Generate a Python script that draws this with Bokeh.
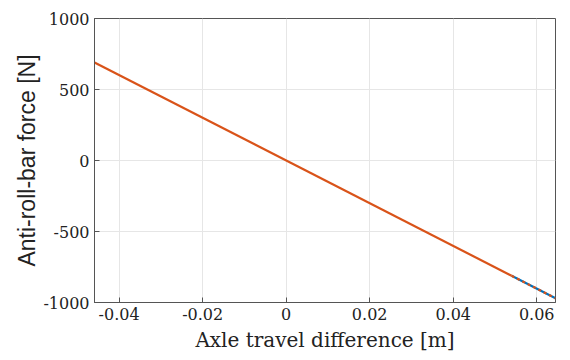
from bokeh.plotting import figure
from bokeh.models import Range1d, FixedTicker
from bokeh.embed import file_html
from bokeh.resources import INLINE

# data
x_line = [-0.0459, 0.0645]
y_line = [690.0, -970.0]
x_blue = [0.054, 0.0645]
y_blue = [-812.0, -970.0]
x_orange_solid = [-0.0459, 0.054]
y_orange_solid = [690.0, -812.0]
x_ticks = [-0.04, -0.02, 0.0, 0.02, 0.04, 0.06]
y_ticks = [-1000, -500, 0, 500, 1000]

SERIF = "DejaVu Serif"

p = figure(width=570, height=360, output_backend="svg", toolbar_location=None,
           x_range=Range1d(-0.0459, 0.0645), y_range=Range1d(-1000, 1000),
           min_border_left=94, min_border_right=15, min_border_top=18, min_border_bottom=58)

p.line(x_blue, y_blue, line_color="#0072BD", line_width=2.2)
p.line(x_orange_solid, y_orange_solid, line_color="#D95319", line_width=2.2)
p.line(x_blue, y_blue, line_color="#D95319", line_width=2.2, line_dash="3 3")

p.xaxis.ticker = FixedTicker(ticks=x_ticks)
p.yaxis.ticker = FixedTicker(ticks=y_ticks)
p.xaxis.major_label_overrides = {-0.04: "-0.04", -0.02: "-0.02", 0.0: "0", 0.02: "0.02", 0.04: "0.04", 0.06: "0.06"}
p.yaxis.major_label_overrides = {-1000: "-1000", -500: "-500", 0: "0", 500: "500", 1000: "1000"}

for ax in (p.xaxis[0], p.yaxis[0]):
    ax.axis_line_color = "#555555"
    ax.major_tick_line_color = "#555555"
    ax.major_tick_in = 5
    ax.major_tick_out = 0
    ax.minor_tick_line_color = None
    ax.major_label_text_font = SERIF
    ax.major_label_text_font_size = "16px"
    ax.major_label_text_color = "#222222"
    ax.axis_label_text_font_style = "normal"
    ax.axis_label_text_color = "#222222"

p.xaxis.axis_label = "Axle travel difference [m]"
p.xaxis.axis_label_text_font = SERIF
p.xaxis.axis_label_text_font_size = "20px"
p.xaxis.axis_label_standoff = 5
p.yaxis.axis_label = "Anti-roll-bar force [N]"
p.yaxis.axis_label_text_font = "Liberation Sans"
p.yaxis.axis_label_text_font_size = "23px"
p.yaxis.axis_label_standoff = 0

p.xgrid.grid_line_color = "#e6e6e6"
p.ygrid.grid_line_color = "#e6e6e6"
p.outline_line_color = "#555555"
p.outline_line_width = 1

open("out.html", "w").write(file_html(p, INLINE))
